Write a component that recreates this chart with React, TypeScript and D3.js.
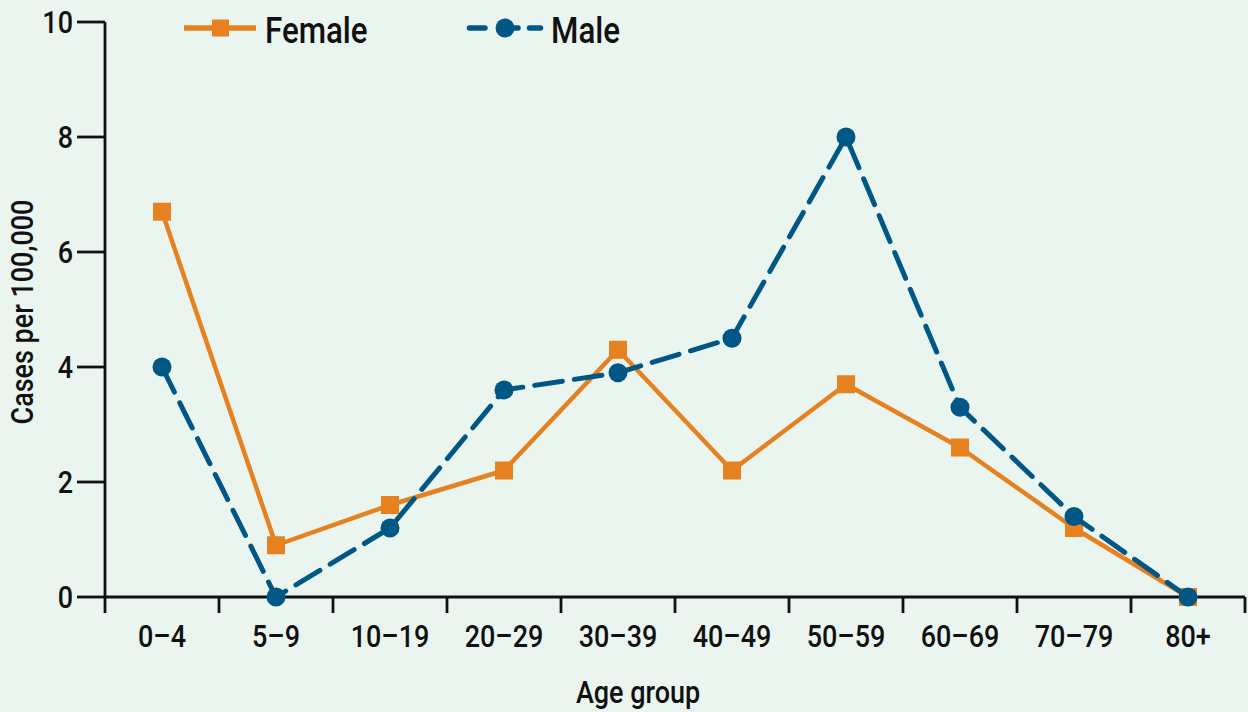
import React, { useEffect, useRef } from 'react';
import * as d3 from 'd3';

const ageGroups = ['0–4', '5–9', '10–19', '20–29', '30–39', '40–49', '50–59', '60–69', '70–79', '80+'];
const femaleCases = [6.7, 0.9, 1.6, 2.2, 4.3, 2.2, 3.7, 2.6, 1.2, 0];
const maleCases = [4.0, 0, 1.2, 3.6, 3.9, 4.5, 8.0, 3.3, 1.4, 0];
const yTicks = [0, 2, 4, 6, 8, 10];

const WIDTH = 1248;
const HEIGHT = 712;
const ORANGE = '#e5821f';
const BLUE = '#005785';
const INK = '#111';
const FONT = 'Roboto, "DejaVu Sans Condensed", sans-serif';
const SQUEEZE = 0.87; // condensed look

type Sel = d3.Selection<SVGGElement, unknown, null, undefined>;

// condensed text: Roboto squeezed horizontally
function label(parent: Sel, x: number, y: number, txt: string, size: number, anchor: string, rotate = 0) {
  return parent.append('text')
    .attr('transform', `translate(${x},${y}) rotate(${rotate}) scale(${SQUEEZE},1)`)
    .attr('text-anchor', anchor)
    .attr('fill', INK)
    .style('font-family', FONT)
    .style('font-weight', 500)
    .style('font-size', `${size}px`)
    .text(txt);
}

const App: React.FC = () => {
  const svgRef = useRef<SVGSVGElement>(null);

  useEffect(() => {
    if (!svgRef.current) return;
    const svg = d3.select(svgRef.current);
    svg.selectAll('*').remove();

    const margin = { top: 22, right: 3, bottom: 115, left: 105 };
    const innerWidth = WIDTH - margin.left - margin.right;
    const innerHeight = HEIGHT - margin.top - margin.bottom;

    svg.append('rect')
      .attr('width', WIDTH)
      .attr('height', HEIGHT)
      .attr('fill', '#ebf5f0');

    const root = svg.append('g') as unknown as Sel;
    const g = svg.append('g')
      .attr('transform', `translate(${margin.left},${margin.top})`) as unknown as Sel;

    const x = d3.scaleBand<string>()
      .domain(ageGroups)
      .range([0, innerWidth]);

    const y = d3.scaleLinear()
      .domain([0, 10])
      .range([innerHeight, 0]);

    // y axis
    g.append('line')
      .attr('x1', 0).attr('x2', 0)
      .attr('y1', y(10)).attr('y2', y(0))
      .attr('stroke', INK).attr('stroke-width', 2.8);
    yTicks.forEach(t => {
      g.append('line')
        .attr('x1', -28).attr('x2', 0)
        .attr('y1', y(t)).attr('y2', y(t))
        .attr('stroke', INK).attr('stroke-width', 2.8);
      label(g, -32, y(t) + 11, String(t), 31, 'end');
    });

    // x axis: ticks at band boundaries
    g.append('line')
      .attr('x1', 0).attr('x2', innerWidth)
      .attr('y1', innerHeight).attr('y2', innerHeight)
      .attr('stroke', INK).attr('stroke-width', 2.8);
    const boundaries = ageGroups.map(a => x(a) as number).concat([innerWidth]);
    boundaries.forEach(b => {
      g.append('line')
        .attr('x1', b).attr('x2', b)
        .attr('y1', innerHeight).attr('y2', innerHeight + 16)
        .attr('stroke', INK).attr('stroke-width', 2.8);
    });
    ageGroups.forEach(a => {
      label(g, (x(a) as number) + x.bandwidth() / 2, innerHeight + 50, a, 31, 'middle');
    });

    // axis titles
    label(root, 638, 703, 'Age group', 31, 'middle');
    label(root, 33, 312, 'Cases per 100,000', 31, 'middle', -90);

    const cx = (i: number) => (x(ageGroups[i]) as number) + x.bandwidth() / 2;
    const line = d3.line<number>()
      .x((_, i) => cx(i))
      .y(d => y(d));

    // Female
    g.append('path')
      .datum(femaleCases)
      .attr('d', line)
      .attr('fill', 'none')
      .attr('stroke', ORANGE)
      .attr('stroke-width', 4.5)
      .attr('stroke-linejoin', 'round');
    g.selectAll('.female-pt')
      .data(femaleCases)
      .enter()
      .append('rect')
      .attr('x', (_, i) => cx(i) - 9)
      .attr('y', d => y(d) - 9)
      .attr('width', 18)
      .attr('height', 18)
      .attr('fill', ORANGE);

    // Male
    g.append('path')
      .datum(maleCases)
      .attr('d', line)
      .attr('fill', 'none')
      .attr('stroke', BLUE)
      .attr('stroke-width', 5)
      .attr('stroke-linecap', 'round')
      .attr('stroke-dasharray', '28 12');
    g.selectAll('.male-pt')
      .data(maleCases)
      .enter()
      .append('circle')
      .attr('cx', (_, i) => cx(i))
      .attr('cy', d => y(d))
      .attr('r', 9.5)
      .attr('fill', BLUE);

    // legend
    const fem = root.append('g').attr('transform', 'translate(184,28)');
    fem.append('line').attr('x1', 0).attr('x2', 72).attr('stroke', ORANGE).attr('stroke-width', 5.5);
    fem.append('rect').attr('x', 28).attr('y', -8.5).attr('width', 17).attr('height', 17).attr('fill', ORANGE);
    label(fem as unknown as Sel, 81, 15, 'Female', 36, 'start');

    const male = root.append('g').attr('transform', 'translate(467,28)');
    [[2.5, 18], [38, 51], [62.5, 73.5]].forEach(([a, b]) => {
      male.append('line')
        .attr('x1', a).attr('x2', b)
        .attr('stroke', BLUE).attr('stroke-width', 5.5)
        .attr('stroke-linecap', 'round');
    });
    male.append('circle').attr('cx', 38).attr('cy', 0).attr('r', 9.5).attr('fill', BLUE);
    label(male as unknown as Sel, 84, 15, 'Male', 36, 'start');
  }, []);

  return (
    <svg
      ref={svgRef}
      width={WIDTH}
      height={HEIGHT}
      style={{ position: 'fixed', top: 0, left: 0 }}
    />
  );
};

export default App;
